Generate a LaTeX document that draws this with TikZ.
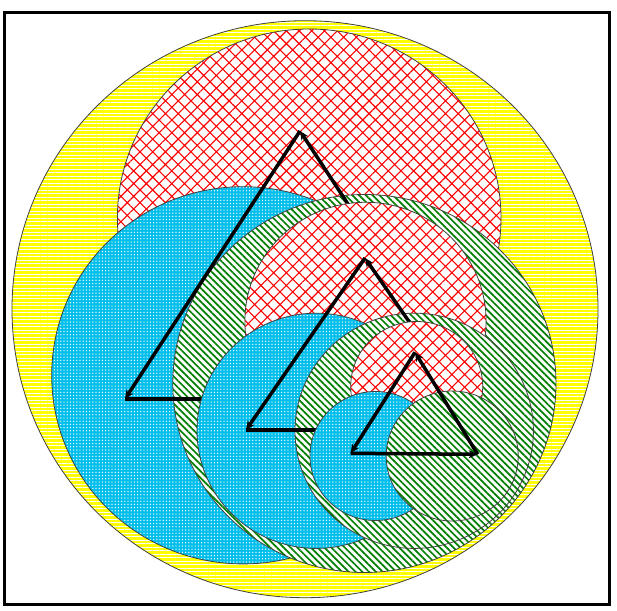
\documentclass[tikz,border=0pt]{standalone}
\usetikzlibrary{patterns.meta,arrows.meta}
\definecolor{ycol}{RGB}{255,255,0}
\definecolor{ccol}{RGB}{0,190,235}
\definecolor{gcol}{RGB}{0,128,0}
\definecolor{rcol}{RGB}{255,0,0}
\tikzset{
  rim/.style={draw=black!75, line width=0.8pt},
  yellowdisk/.style={rim, preaction={fill=ycol}, pattern={Lines[angle=0,distance=3.5pt,line width=0.5pt]}, pattern color=white},
  reddisk/.style={rim, preaction={fill=white}, pattern={Hatch[angle=45,distance=9pt,line width=1.1pt]}, pattern color=rcol},
  cyandisk/.style={rim, preaction={fill=ccol}, pattern={Dots[distance=3.2pt,radius=0.7pt]}, pattern color=white},
  greendisk/.style={rim, preaction={fill=white}, pattern={Lines[angle=-45,distance=4.8pt,line width=1.7pt]}, pattern color=gcol},
  triline/.style={line width=3.5pt, black, -{Stealth[length=9pt,width=8pt]}},
  frameline/.style={line width=3pt, black}
}
\begin{document}
\begin{tikzpicture}[x=1pt,y=-1pt]
\useasboundingbox (0,0) rectangle (617,610);
\fill[white] (0,0) rectangle (617,610);
% level 0
\path[yellowdisk] (305,309.2) ellipse [x radius=293, y radius=288.5];
% level 1
\path[reddisk] (309.2,218) ellipse [x radius=191.8, y radius=189];
\path[cyandisk] (243,375.3) ellipse [x radius=191.3, y radius=188.6];
\path[greendisk] (364.4,383.5) ellipse [x radius=191.6, y radius=189];
\coordinate (a1) at (300,131);
\coordinate (b1) at (125,399);
\coordinate (c1) at (476,399);
\draw[triline] (b1) -- (c1);
\draw[triline] (c1) -- (a1);
\draw[triline] (a1) -- (b1);
% level 2
\path[reddisk] (365.5,321.3) ellipse [x radius=120.6, y radius=119];
\path[cyandisk] (316.2,430.8) ellipse [x radius=119.2, y radius=117.6];
\path[greendisk] (414.2,430.8) ellipse [x radius=119.2, y radius=117.6];
\coordinate (a2) at (365,258);
\coordinate (b2) at (246,430);
\coordinate (c2) at (484,430);
\draw[triline] (b2) -- (c2);
\draw[triline] (c2) -- (a2);
\draw[triline] (a2) -- (b2);
% level 3
\path[reddisk] (416.7,386.5) ellipse [x radius=66, y radius=65];
\path[cyandisk] (375.5,456) ellipse [x radius=65.5, y radius=64.5];
\path[greendisk] (452.2,456) ellipse [x radius=66, y radius=65];
\coordinate (a3) at (415,352.3);
\coordinate (b3) at (350.7,453.3);
\coordinate (c3) at (477.7,454.3);
\draw[triline] (b3) -- (c3);
\draw[triline] (c3) -- (a3);
\draw[triline] (a3) -- (b3);
% frame
\draw[frameline] (4,12.5) rectangle (609.5,604);
\end{tikzpicture}
\end{document}
